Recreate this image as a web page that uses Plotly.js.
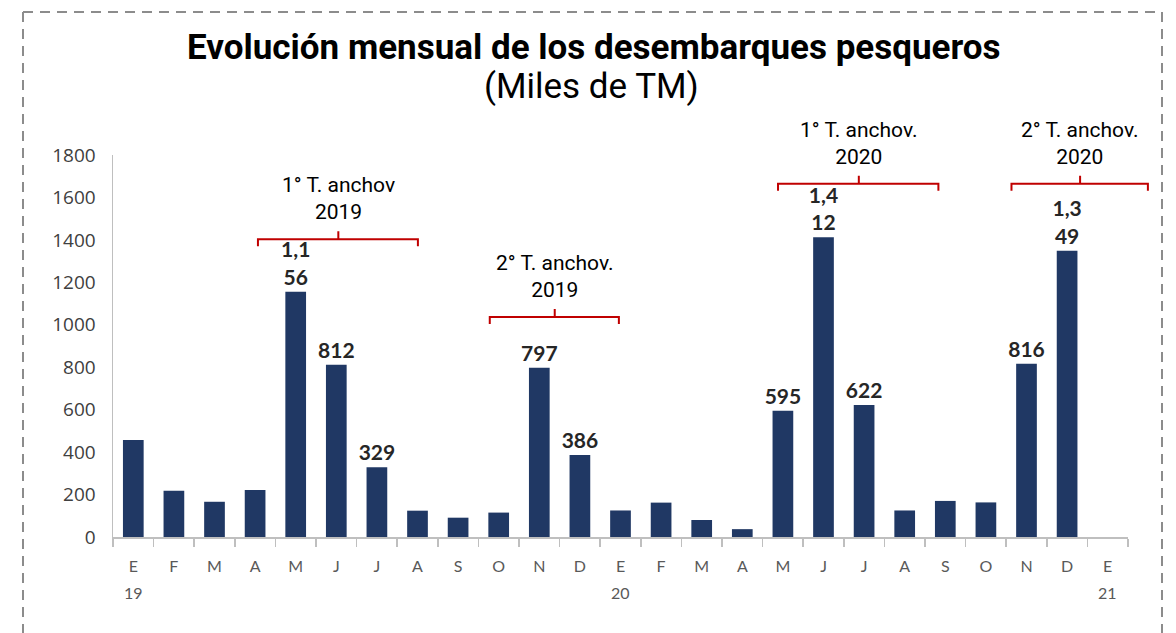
<!DOCTYPE html>
<html>
<head>
<meta charset="utf-8">
<script src="https://cdn.plot.ly/plotly-3.0.1.min.js"></script>
<style>
  html, body { margin: 0; padding: 0; background: #fff; }
  #chart { width: 1176px; height: 633px; }
</style>
</head>
<body>
<div id="chart"></div>
<script>
// ---- Data ----
const categories = ['Ene 19','Feb 19','Mar 19','Abr 19','May 19','Jun 19','Jul 19','Ago 19','Sep 19','Oct 19','Nov 19','Dic 19',
                    'Ene 20','Feb 20','Mar 20','Abr 20','May 20','Jun 20','Jul 20','Ago 20','Sep 20','Oct 20','Nov 20','Dic 20',
                    'Ene 21'];
const tickLabels = ['E','F','M','A','M','J','J','A','S','O','N','D',
                    'E','F','M','A','M','J','J','A','S','O','N','D',
                    'E'];
const desembarques = [457, 218, 166, 221, 1156, 812, 329, 124, 91, 115, 797, 386,
                      125, 162, 80, 37, 595, 1412, 622, 125, 170, 163, 816, 1349,
                      null];
const dataLabels = ['', '', '', '', '1,1<br>56', '812', '329', '', '', '', '797', '386',
                    '', '', '', '', '595', '1,4<br>12', '622', '', '', '', '816', '1,3<br>49',
                    ''];
const yearLabels = [{cat: 'Ene 19', text: '19'}, {cat: 'Ene 20', text: '20'}, {cat: 'Ene 21', text: '21'}];
// fishing seasons (bracket span in category-index units, height in thousand TM)
const temporadas = [
  {label: '1° T. anchov<br>2019',  from: 3.07,  to: 7.01,  mid: 5.05,  y: 1403},
  {label: '2° T. anchov.<br>2019', from: 8.78,  to: 11.96, mid: 10.38, y: 1037},
  {label: '1° T. anchov.<br>2020', from: 15.88, to: 19.83, mid: 17.87, y: 1664},
  {label: '2° T. anchov.<br>2020', from: 21.63, to: 24.99, mid: 23.32, y: 1664}
];

// ---- Layout geometry ----
const W = 1176, H = 633;
const M = {l: 113, r: 48, t: 155, b: 96};
const PW = W - M.l - M.r, PH = H - M.t - M.b;
const YMAX = 1800;
const nCat = categories.length;
const pxX = px => (px - M.l) / PW;          // page px -> paper x
const pxY = py => (H - M.b - py) / PH;      // page px -> paper y
const idxToPaper = i => (i + 0.5) / nCat;
const dx = 1 / PW, dy = 1 / PH;

const shapes = [];
const annotations = [];

// dashed frame
const frameStyle = {color: '#8c8c8c', width: 2, dash: '10px,7px'};
shapes.push({type: 'line', xref: 'paper', yref: 'paper', x0: pxX(23), x1: pxX(1162), y0: pxY(12), y1: pxY(12), line: frameStyle});
shapes.push({type: 'line', xref: 'paper', yref: 'paper', x0: pxX(23), x1: pxX(23), y0: pxY(12), y1: pxY(650), line: frameStyle});
shapes.push({type: 'line', xref: 'paper', yref: 'paper', x0: pxX(1162), x1: pxX(1162), y0: pxY(12), y1: pxY(650), line: frameStyle});

// brackets + labels
temporadas.forEach(t => {
  const x0 = idxToPaper(t.from), x1 = idxToPaper(t.to), xm = idxToPaper(t.mid);
  const y = t.y / YMAX;
  const d = `M${x0},${y - 7 * dy} L${x0},${y} L${x1},${y} L${x1},${y - 7 * dy} M${xm},${y} L${xm},${y + 8 * dy}`;
  shapes.push({type: 'path', xref: 'paper', yref: 'paper', path: d, line: {color: '#c00000', width: 2}});
  annotations.push({
    xref: 'paper', yref: 'paper', x: xm, y: y, yanchor: 'bottom', xanchor: 'center', yshift: 13,
    text: t.label, showarrow: false, align: 'center',
    font: {family: 'Roboto, sans-serif', size: 21, color: '#000'}
  });
});

// year labels under the month letters
yearLabels.forEach(yl => {
  annotations.push({
    xref: 'x', yref: 'paper', x: yl.cat, y: pxY(592), yanchor: 'middle', xanchor: 'center',
    text: yl.text, showarrow: false,
    font: {family: 'Lato, sans-serif', size: 16, color: '#595959'}
  });
});

// title
annotations.push({
  xref: 'paper', yref: 'paper', x: pxX(593), y: pxY(48), xanchor: 'center', yanchor: 'middle',
  text: '<b>Evolución mensual de los desembarques pesqueros</b>', showarrow: false,
  font: {family: 'Roboto, sans-serif', size: 35, color: '#000'}
});
annotations.push({
  xref: 'paper', yref: 'paper', x: pxX(591), y: pxY(87), xanchor: 'center', yanchor: 'middle',
  text: '(Miles de TM)', showarrow: false,
  font: {family: 'Roboto, sans-serif', size: 35, color: '#000'}
});

const trace = {
  type: 'bar',
  x: categories,
  y: desembarques,
  text: dataLabels,
  texttemplate: '%{text}',
  textposition: 'outside',
  constraintext: 'none',
  cliponaxis: false,
  textfont: {family: 'Lato, sans-serif', size: 21, color: '#262626', weight: 'bold'},
  marker: {color: '#203864', line: {width: 0}},
  hoverinfo: 'skip'
};

const layout = {
  width: W, height: H,
  margin: M,
  paper_bgcolor: '#fff', plot_bgcolor: '#fff',
  showlegend: false,
  bargap: 0.49,
  xaxis: {
    type: 'category',
    range: [-0.5, nCat - 0.5],
    tickmode: 'array', tickvals: categories, ticktext: tickLabels,
    tickson: 'boundaries', ticks: 'outside', ticklen: 8, tickcolor: '#bfbfbf', tickwidth: 1.5,
    showline: true, linecolor: '#bfbfbf', linewidth: 1.5,
    showgrid: false, zeroline: false,
    ticklabelstandoff: 14,
    tickfont: {family: 'Lato, sans-serif', size: 16, color: '#595959'},
    fixedrange: true
  },
  yaxis: {
    range: [0, YMAX], dtick: 200, tick0: 0,
    showline: true, linecolor: '#bfbfbf', linewidth: 1.5,
    ticks: '', showgrid: false, zeroline: false,
    ticklabelstandoff: 12,
    tickfont: {family: 'Open Sans, sans-serif', size: 19, color: '#404040'},
    fixedrange: true
  },
  shapes: shapes,
  annotations: annotations
};

Plotly.newPlot('chart', [trace], layout, {displayModeBar: false, staticPlot: true});
</script>
</body>
</html>
